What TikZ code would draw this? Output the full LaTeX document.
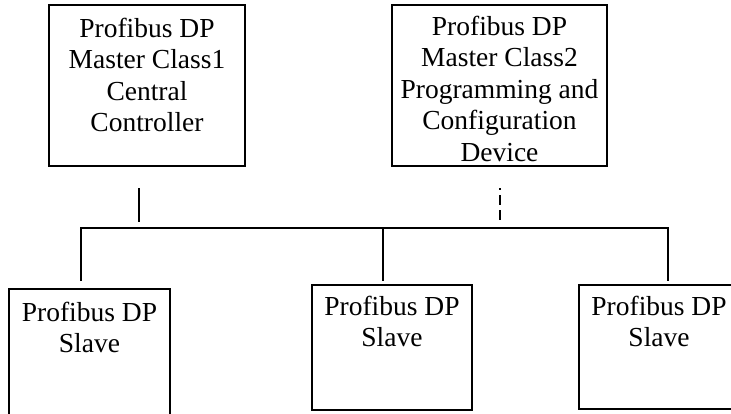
\documentclass[tikz,border=0pt]{standalone}
\usepackage{fontspec}
\setmainfont{Liberation Serif}
\usetikzlibrary{positioning}
\tikzset{station/.style={
        rectangle,
        draw=black,
        line width=1pt,
    },
    caption/.style={
        align=center,
        inner sep=0pt,
        outer sep=0pt,
        font=\fontsize{13.75}{15.75}\selectfont
    },
    bus/.style={
        draw,
        line width=1pt,
    },
    stub/.style={
        draw,
        line width=1pt,
        dash pattern=on 5pt off 2.5pt,
        dash phase=4pt
    }}

\begin{document}
\begin{tikzpicture}
    [
    x=0.5pt,y=-0.5pt,
    node distance=7pt,
    master/.style={
        station,
        minimum height=80.5pt
    },
    slave/.style={
        station,
        minimum width=80pt
    }
    ]
    \useasboundingbox (0,0) rectangle (731,413);

    \node (master1)[master,minimum width=98pt] at (147,85.5) {};
    \node (master2)[master,minimum width=107.5pt] at (499.5,85.5) {};
    \node (slave1)[slave,minimum width=80.5pt,minimum height=63pt] at (89.5,352) {};
    \node (slave2)[slave,minimum height=62.5pt] at (392,347.5) {};
    \node (slave3)[slave,minimum height=62pt] at (659,347) {};

    \node (master1txt)[caption,below=of master1.north] {Profibus DP\\Master Class1\\Central\\Controller};
    \node (master2txt)[caption,below=6pt of master2.north] {Profibus DP\\Master Class2\\Programming and\\Configuration\\Device};
    \node (slave1txt)[caption,below=of slave1.north] {Profibus DP\\Slave};
    \node (slave2txt)[caption,below=6pt of slave2.north] {Profibus DP\\Slave};
    \node (slave3txt)[caption,below=6pt of slave3.north] {Profibus DP\\Slave};

    % bus and taps
    \coordinate (tap1) at (81,228);
    \coordinate (tap2) at (383,228);
    \coordinate (tap3) at (668,228);
    \coordinate (m1top) at (139,188);
    \coordinate (m1bot) at (139,222);
    \coordinate (m2top) at (500,188);
    \coordinate (m2bot) at (500,222);

    \draw[bus,shorten <=3.5pt,shorten >=1.5pt] (tap1 |- slave1.north) -- (tap1) -- (tap3) -- (tap3 |- slave3.north);
    \draw[bus,shorten >=1.5pt] (tap2) -- (tap2 |- slave2.north);
    \draw[bus] (m1top) -- (m1bot);
    \draw[stub] (m2top) -- (m2bot);

\end{tikzpicture}
\end{document}
